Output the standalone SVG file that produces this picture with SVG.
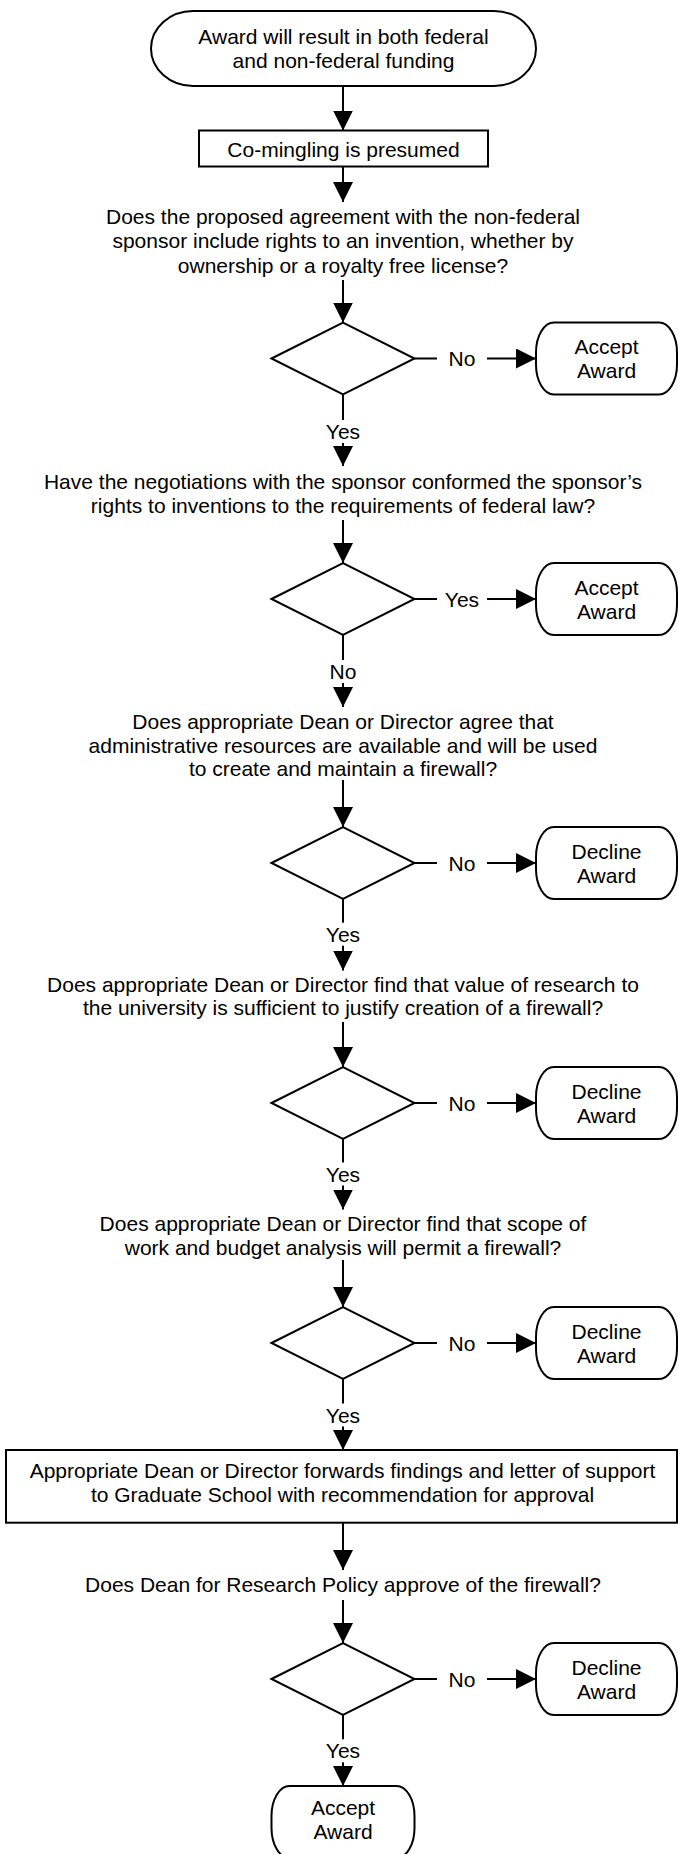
<svg xmlns="http://www.w3.org/2000/svg" width="678" height="1854" viewBox="0 0 678 1854">
<style>
text{font-family:"Liberation Sans",Arial,sans-serif;font-size:21px;fill:#000;text-anchor:middle}
.sh{fill:#fff;stroke:#000;stroke-width:2}
.ln{fill:none;stroke:#000;stroke-width:2;marker-end:url(#ah)}
.pl{fill:none;stroke:#000;stroke-width:2}
.bg{fill:#fff;stroke:none}
</style>
<defs>
<marker id="ah" markerWidth="20" markerHeight="20" refX="20" refY="10" orient="auto" markerUnits="userSpaceOnUse"><path d="M0,0 L20,10 L0,20 z" fill="#000"/></marker>
</defs>
<rect width="678" height="1854" fill="#fff"/>
<g id="connectors">
<path class="ln" d="M343,86 V130.5"/>
<path class="ln" d="M343,166.5 V202"/>
<path class="ln" d="M343,280 V322.5"/>
<path class="ln" d="M414.5,358.5 H536"/>
<path class="ln" d="M343,394.5 V466"/>
<path class="ln" d="M343,520 V563"/>
<path class="ln" d="M414.5,599 H536"/>
<path class="ln" d="M343,635 V707"/>
<path class="ln" d="M343,780 V827"/>
<path class="ln" d="M414.5,863 H536"/>
<path class="ln" d="M343,899 V970.5"/>
<path class="ln" d="M343,1022 V1067"/>
<path class="ln" d="M414.5,1103 H536"/>
<path class="ln" d="M343,1139 V1209.5"/>
<path class="ln" d="M343,1260 V1307"/>
<path class="ln" d="M414.5,1343 H536"/>
<path class="ln" d="M343,1379 V1450"/>
<path class="ln" d="M343,1522.7 V1570"/>
<path class="ln" d="M343,1600 V1643"/>
<path class="ln" d="M414.5,1679 H536"/>
<path class="ln" d="M343,1715 V1786"/>
<g id="labels">
<rect class="bg" x="437" y="346.5" width="50" height="24"/><text x="462" y="366">No</text>
<rect class="bg" x="321" y="420" width="44" height="23"/><text x="343" y="439">Yes</text>
<rect class="bg" x="437" y="587" width="50" height="24"/><text x="462" y="606.5">Yes</text>
<rect class="bg" x="321" y="660" width="44" height="23"/><text x="343" y="679">No</text>
<rect class="bg" x="437" y="851" width="50" height="24"/><text x="462" y="870.5">No</text>
<rect class="bg" x="321" y="922.7" width="44" height="23"/><text x="343" y="941.7">Yes</text>
<rect class="bg" x="437" y="1091" width="50" height="24"/><text x="462" y="1110.5">No</text>
<rect class="bg" x="321" y="1162.5" width="44" height="23"/><text x="343" y="1181.5">Yes</text>
<rect class="bg" x="437" y="1331" width="50" height="24"/><text x="462" y="1350.5">No</text>
<rect class="bg" x="321" y="1403.5" width="44" height="23"/><text x="343" y="1422.5">Yes</text>
<rect class="bg" x="437" y="1667" width="50" height="24"/><text x="462" y="1686.5">No</text>
<rect class="bg" x="321" y="1739.3" width="44" height="23"/><text x="343" y="1758.3">Yes</text>
</g>
</g>
<g id="start">
<rect class="sh" x="151" y="11" width="385" height="75" rx="42" ry="37.5"/>
<text x="343.5" y="43.5">Award will result in both federal</text>
<text x="343.5" y="67.5">and non-federal funding</text>
</g>
<g id="comingling">
<rect class="sh" x="199" y="130.5" width="289" height="36"/>
<text x="343.5" y="156.5">Co-mingling is presumed</text>
</g>
<g id="q1">
<text x="343" y="223.5">Does the proposed agreement with the non-federal</text>
<text x="343" y="248">sponsor include rights to an invention, whether by</text>
<text x="343" y="272.5">ownership or a royalty free license?</text>
</g>
<g id="d1"><polygon class="sh" points="271.5,358.5 343,322.5 414.5,358.5 343,394.5"/></g>
<g id="accept1">
<rect class="sh" x="536" y="322.5" width="141" height="72" rx="18" ry="30"/>
<text x="606.5" y="354">Accept</text><text x="606.5" y="378">Award</text>
</g>
<g id="q2">
<text x="343" y="489">Have the negotiations with the sponsor conformed the sponsor’s</text>
<text x="343" y="512.5">rights to inventions to the requirements of federal law?</text>
</g>
<g id="d2"><polygon class="sh" points="271.5,599 343,563 414.5,599 343,635"/></g>
<g id="accept2">
<rect class="sh" x="536" y="563" width="141" height="72" rx="18" ry="30"/>
<text x="606.5" y="594.5">Accept</text><text x="606.5" y="618.5">Award</text>
</g>
<g id="q3">
<text x="343" y="729">Does appropriate Dean or Director agree that</text>
<text x="343" y="752.5">administrative resources are available and will be used</text>
<text x="343" y="775.5">to create and maintain a firewall?</text>
</g>
<g id="d3"><polygon class="sh" points="271.5,863 343,827 414.5,863 343,899"/></g>
<g id="decline1">
<rect class="sh" x="536" y="827" width="141" height="72" rx="18" ry="30"/>
<text x="606.5" y="858.5">Decline</text><text x="606.5" y="882.5">Award</text>
</g>
<g id="q4">
<text x="343" y="991.7">Does appropriate Dean or Director find that value of research to</text>
<text x="343" y="1015">the university is sufficient to justify creation of a firewall?</text>
</g>
<g id="d4"><polygon class="sh" points="271.5,1103 343,1067 414.5,1103 343,1139"/></g>
<g id="decline2">
<rect class="sh" x="536" y="1067" width="141" height="72" rx="18" ry="30"/>
<text x="606.5" y="1098.5">Decline</text><text x="606.5" y="1122.5">Award</text>
</g>
<g id="q5">
<text x="343" y="1231">Does appropriate Dean or Director find that scope of</text>
<text x="343" y="1254.5">work and budget analysis will permit a firewall?</text>
</g>
<g id="d5"><polygon class="sh" points="271.5,1343 343,1307 414.5,1343 343,1379"/></g>
<g id="decline3">
<rect class="sh" x="536" y="1307" width="141" height="72" rx="18" ry="30"/>
<text x="606.5" y="1338.5">Decline</text><text x="606.5" y="1362.5">Award</text>
</g>
<g id="forward">
<rect class="sh" x="6" y="1450" width="671" height="72.7"/>
<text x="342.5" y="1478">Appropriate Dean or Director forwards findings and letter of support</text>
<text x="342.5" y="1501.7">to Graduate School with recommendation for approval</text>
</g>
<g id="q6">
<text x="343" y="1591.7">Does Dean for Research Policy approve of the firewall?</text>
</g>
<g id="d6"><polygon class="sh" points="271.5,1679 343,1643 414.5,1679 343,1715"/></g>
<g id="decline4">
<rect class="sh" x="536" y="1643" width="141" height="72" rx="18" ry="30"/>
<text x="606.5" y="1674.5">Decline</text><text x="606.5" y="1698.5">Award</text>
</g>
<g id="accept-final">
<rect class="sh" x="271.5" y="1786" width="143" height="72" rx="18" ry="30"/>
<text x="343" y="1815">Accept</text><text x="343" y="1838.5">Award</text>
</g>
</svg>
